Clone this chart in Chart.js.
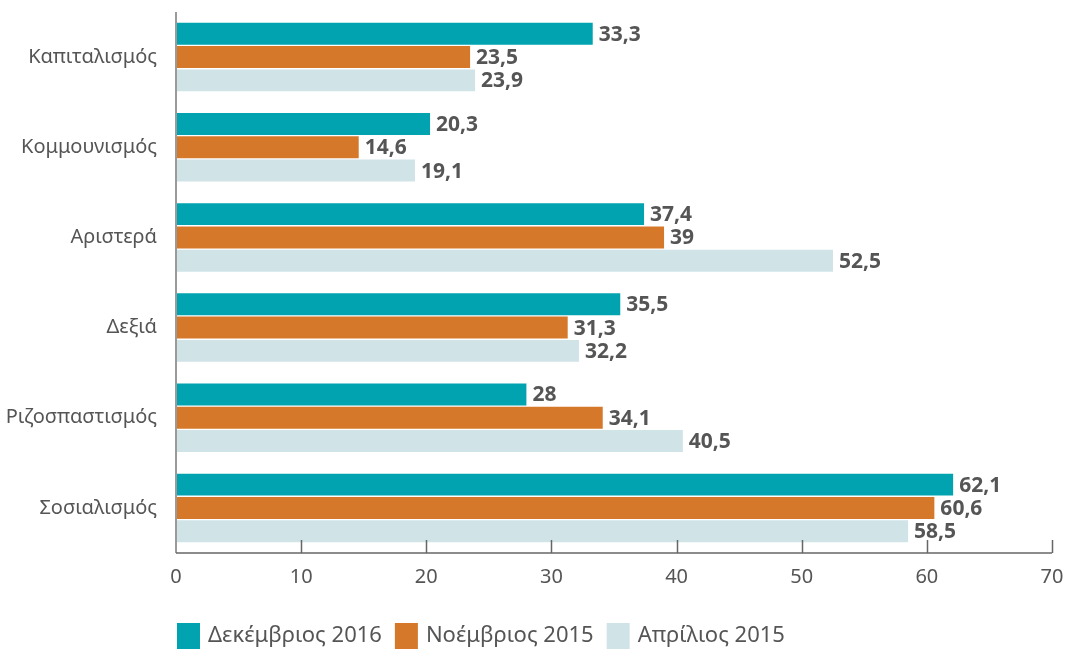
<!DOCTYPE html>
<html>
<head>
<meta charset="utf-8">
<script src="https://cdn.jsdelivr.net/npm/chart.js@4.4.0/dist/chart.umd.min.js"></script>
<style>
    html, body { margin: 0; padding: 0; background: #fff; }
    #wrap { width: 1066px; height: 651px; position: relative; }
</style>
</head>
<body>
<div id="wrap"><canvas id="chart"></canvas></div>
<script>
// Data
const categories = ['Καπιταλισμός', 'Κομμουνισμός', 'Αριστερά', 'Δεξιά', 'Ριζοσπαστισμός', 'Σοσιαλισμός'];
const seriesNames = ['Δεκέμβριος 2016', 'Νοέμβριος 2015', 'Απρίλιος 2015'];
const dec2016 = [33.3, 20.3, 37.4, 35.5, 28, 62.1];
const nov2015 = [23.5, 14.6, 39, 31.3, 34.1, 60.6];
const apr2015 = [23.9, 19.1, 52.5, 32.2, 40.5, 58.5];
const xTicks = [0, 10, 20, 30, 40, 50, 60, 70];

const colors = ['#00a3af', '#d5782a', '#d0e3e7'];
const FONT = "'Noto Sans', 'Open Sans', sans-serif";

// value labels at the end of each bar
const valueLabels = {
    id: 'valueLabels',
    afterDatasetsDraw(chart) {
        const ctx = chart.ctx;
        ctx.save();
        ctx.font = 'bold 21px ' + FONT;
        ctx.fillStyle = '#555';
        ctx.textAlign = 'left';
        ctx.textBaseline = 'middle';
        chart.data.datasets.forEach((ds, i) => {
            const meta = chart.getDatasetMeta(i);
            meta.data.forEach((bar, j) => {
                const txt = String(ds.data[j]).replace('.', ',');
                ctx.fillText(txt, bar.x + 6, bar.y + 1);
            });
        });
        ctx.restore();
    }
};

// axis lines, small ticks pointing up, and the legend under the axis
const decorations = {
    id: 'decorations',
    afterDraw(chart) {
        const ctx = chart.ctx;
        const x = chart.scales.x;
        const area = chart.chartArea;
        ctx.save();
        ctx.strokeStyle = '#666';
        ctx.lineWidth = 1.5;
        xTicks.forEach(v => {
            if (v === 0) return;
            const px = Math.round(x.getPixelForValue(v)) + 0.5;
            ctx.beginPath();
            ctx.moveTo(px, area.bottom);
            ctx.lineTo(px, area.bottom - 13);
            ctx.stroke();
        });
        // left axis line
        ctx.strokeStyle = '#9a9a9a';
        ctx.lineWidth = 2;
        ctx.beginPath();
        ctx.moveTo(area.left, area.top);
        ctx.lineTo(area.left, area.bottom);
        ctx.stroke();
        // bottom axis line
        ctx.strokeStyle = '#666';
        ctx.lineWidth = 1.5;
        ctx.beginPath();
        ctx.moveTo(area.left, area.bottom);
        ctx.lineTo(area.right, area.bottom);
        ctx.stroke();

        // legend
        ctx.font = '22px ' + FONT;
        ctx.textBaseline = 'middle';
        ctx.textAlign = 'left';
        let lx = area.left + 1;
        const ly = 636;
        chart.data.datasets.forEach(ds => {
            ctx.fillStyle = ds.backgroundColor;
            ctx.fillRect(lx, ly - 13, 23, 26);
            lx += 23 + 8;
            ctx.fillStyle = '#555';
            ctx.fillText(ds.label, lx, ly);
            lx += ctx.measureText(ds.label).width + 13;
        });
        ctx.restore();
    }
};

const ctx = document.getElementById('chart').getContext('2d');
new Chart(ctx, {
    type: 'bar',
    data: {
        labels: categories,
        datasets: [
            { label: seriesNames[0], data: dec2016, backgroundColor: colors[0] },
            { label: seriesNames[1], data: nov2015, backgroundColor: colors[1] },
            { label: seriesNames[2], data: apr2015, backgroundColor: colors[2] }
        ]
    },
    options: {
        indexAxis: 'y',
        responsive: true,
        maintainAspectRatio: false,
        animation: false,
        datasets: {
            bar: { categoryPercentage: 0.776, barPercentage: 0.94 }
        },
        layout: { padding: { top: 12, right: 14, left: 0, bottom: 0 } },
        plugins: {
            legend: { display: false },
            tooltip: { enabled: false }
        },
        scales: {
            x: {
                min: 0,
                max: 70,
                afterBuildTicks: s => { s.ticks = xTicks.map(v => ({ value: v })); },
                afterFit: s => { s.height = 98; s.paddingRight = 0; s.paddingLeft = 0; },
                grid: { display: false, drawTicks: false },
                border: { display: false },
                ticks: {
                    color: '#555',
                    padding: 12,
                    font: { family: FONT, size: 20 }
                }
            },
            y: {
                afterFit: s => { s.width = 176; s.paddingTop = 0; s.paddingBottom = 0; },
                grid: { display: false, drawTicks: false },
                border: { display: false },
                ticks: {
                    color: '#555',
                    padding: 19,
                    font: { family: FONT, size: 20 }
                }
            }
        }
    },
    plugins: [valueLabels, decorations]
});
</script>
</body>
</html>
